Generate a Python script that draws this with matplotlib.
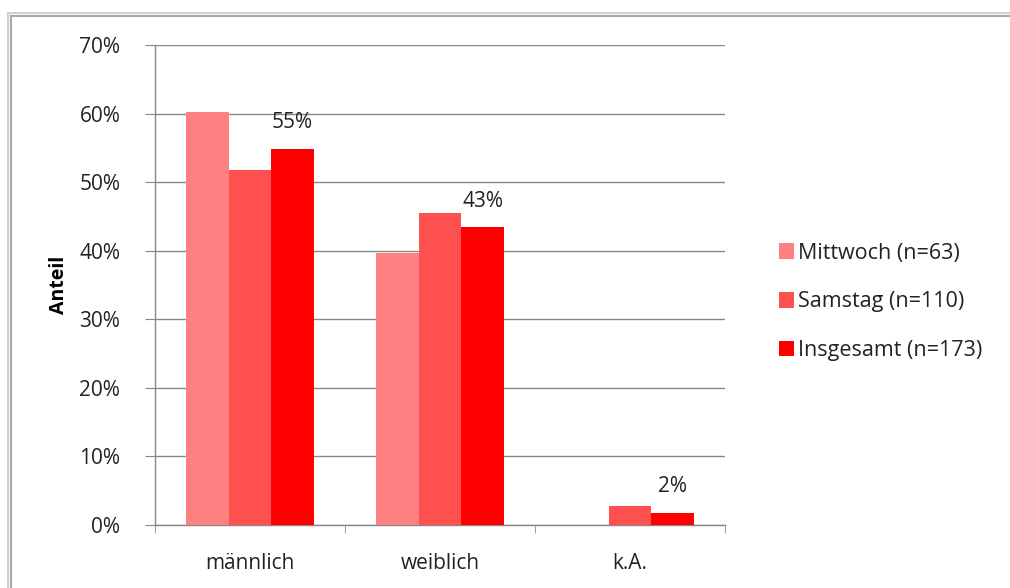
import matplotlib.pyplot as plt
import numpy as np
from matplotlib.lines import Line2D
from matplotlib.ticker import PercentFormatter

plt.rcParams["font.family"] = ["Open Sans", "DejaVu Sans"]

categories = ["männlich", "weiblich", "k.A."]
series_names = ["Mittwoch (n=63)", "Samstag (n=110)", "Insgesamt (n=173)"]
mittwoch = [60.3, 39.7, 0.0]
samstag = [51.8, 45.5, 2.7]
insgesamt = [54.9, 43.4, 1.7]
colors = ["#FF8080", "#FF5050", "#FF0000"]

fig = plt.figure(figsize=(10.10, 5.88), dpi=100)
ax = fig.add_axes([155 / 1010, 1 - 525 / 588, 570 / 1010, 480 / 588])

x = np.arange(len(categories))
width = 0.224
bars = []
for i, (vals, name, c) in enumerate(zip([mittwoch, samstag, insgesamt], series_names, colors)):
    b = ax.bar(x + (i - 1) * width, vals, width, color=c, label=name, zorder=3)
    bars.append(b)

# Datenbeschriftung nur für "Insgesamt"
for rect, v in zip(bars[2], insgesamt):
    ax.annotate(f"{v:.0f}%", (rect.get_x() + rect.get_width() / 2, v),
                xytext=(0, 19), textcoords="offset points",
                ha="center", va="center", fontsize=15, color="#222222")

ax.set_xlim(-0.5, 2.5)
ax.set_ylim(0, 70)
ax.set_yticks(np.arange(0, 71, 10))
ax.yaxis.set_major_formatter(PercentFormatter(decimals=0))
ax.set_xticks(x)
ax.set_xticklabels(categories)
ax.set_xticks([-0.5, 0.5, 1.5, 2.5], minor=True)
ax.tick_params(axis="x", which="major", length=0, pad=20, labelsize=15, labelcolor="#222222")
ax.tick_params(axis="x", which="minor", length=6, color="#888888", direction="out")
ax.tick_params(axis="y", length=7, color="#888888", pad=18, labelsize=15, labelcolor="#222222")

ax.grid(axis="y", color="#888888", linewidth=1, zorder=0)
for s in ["top", "right"]:
    ax.spines[s].set_visible(False)
for s in ["left", "bottom"]:
    ax.spines[s].set_color("#888888")
    ax.spines[s].set_linewidth(1)

ax.set_ylabel("Anteil", fontsize=14, fontweight="bold")
ax.yaxis.set_label_coords(-0.15, 0.5)

leg = ax.legend(loc="center left", bbox_to_anchor=(760 / 1010, 1 - 302 / 588),
                bbox_transform=fig.transFigure, frameon=False, fontsize=15.5,
                handlelength=0.7, handleheight=0.7, handletextpad=0.15,
                labelspacing=1.3)
for t in leg.get_texts():
    t.set_color("#222222")

# Rahmen des Diagrammbereichs
for off, col, lw in [(0, "#d0d0d0", 1.5), (2.5, "#a8a8a8", 1.5)]:
    fig.add_artist(Line2D([(8 + off) / 1010, 1], [1 - (13 + off) / 588] * 2,
                          transform=fig.transFigure, color=col, linewidth=lw))
    fig.add_artist(Line2D([(8 + off) / 1010] * 2, [0, 1 - (13 + off) / 588],
                          transform=fig.transFigure, color=col, linewidth=lw))

fig.savefig("out.png", dpi=100, facecolor="white")
